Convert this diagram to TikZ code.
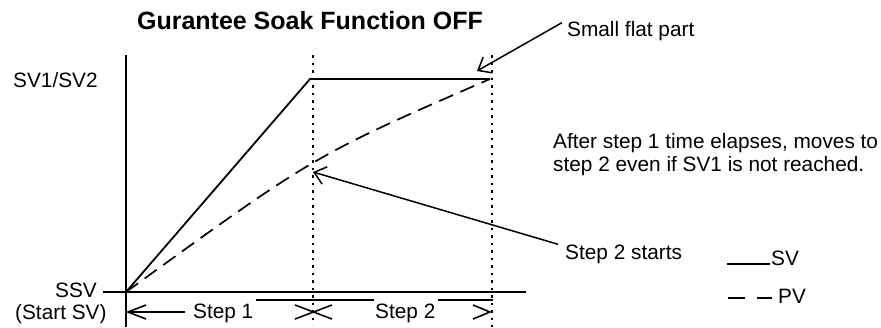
\documentclass[tikz,border=0pt]{standalone}
\usepackage{fontspec}
\setmainfont{Liberation Sans}
\usetikzlibrary{arrows.meta}
\begin{document}
\begin{tikzpicture}[x=1pt,y=-1pt,
  lbl/.style={font=\fontsize{20.8}{24}\selectfont, inner sep=0pt},
  ttl/.style={font=\bfseries\fontsize{25}{29}\selectfont, inner sep=0pt},
  axisline/.style={line width=1.8pt},
  svline/.style={line width=1.8pt},
  pvline/.style={line width=1.7pt, dash pattern=on 15pt off 8pt},
  dotline/.style={line width=2.3pt, dash pattern=on 2.5pt off 5pt},
  callout/.style={line width=1.5pt, -{Straight Barb[length=11pt,width=18pt,line width=1.5pt]}},
  dimline/.style={line width=1.6pt}]
\useasboundingbox (0,0) rectangle (881,327);

% texts
\node[ttl, anchor=base] (title) at (310,29) {Gurantee Soak Function OFF};
\node[lbl, anchor=base west] (svv) at (13,87) {SV1/SV2};
\node[lbl, anchor=base east] (ssv) at (97,297) {SSV};
\node[lbl, anchor=base west] (start) at (15,319) {(Start SV)};
\node[lbl, anchor=base west] (sfp) at (567,36) {Small flat part};
\node[lbl, anchor=base west] (after1) at (553,148) {After step 1 time elapses, moves to};
\node[lbl, anchor=base west] (after2) at (553,171) {step 2 even if SV1 is not reached.};
\node[lbl, anchor=base west] (s2s) at (565,259) {Step 2 starts};
\node[lbl, anchor=base west] (lsv) at (771,265) {SV};
\node[lbl, anchor=base west] (lpv) at (778,303) {PV};
\node[lbl, anchor=base west] (st1) at (193,318) {Step 1};
\node[lbl, anchor=base west] (st2) at (375,318) {Step 2};

% coordinates
\coordinate (O) at (126,292);
\coordinate (ytop) at (126,55);
\coordinate (ybot) at (126,327);
\coordinate (xl) at (103,292);
\coordinate (xr) at (526,292);
\coordinate (corner) at (310,79);
\coordinate (flatend) at (490,79);
\coordinate (pvc) at (315,155);
\coordinate (d1t) at (313,55);
\coordinate (d1b) at (313,325);
\coordinate (d2t) at (492,55);
\coordinate (d2b) at (492,327);
\coordinate (s2tip) at (313,172);
\coordinate (flattip) at (477,71);

% axes
\draw[axisline] (ytop) -- (ybot);
\draw[axisline] (xl) -- (xr);

% dotted step boundaries
\draw[dotline] (d1t) -- (d1b);
\draw[dotline] (d2t) -- (d2b);

% SV and PV
\draw[svline] (O) -- (corner) -- (flatend);
\draw[pvline] (O) .. controls (pvc) .. (flatend);

% callouts
\draw[callout] ([shift={(-5,-8)}]sfp.west) -- (flattip);
\draw[callout] ([shift={(-7,0)}]s2s.north west) -- (s2tip);

% step dimension marks
\draw[dimline] (146,305) -- (128,312) -- (146,319);
\draw[dimline] (128,312) -- (185,312);
\draw[dimline] (256,300) -- (374,300);
\draw[dimline] (295,305) -- (332,319);
\draw[dimline] (295,319) -- (332,305);
\draw[dimline] (438,300) -- (493,300);
\draw[dimline] (473,305) -- (490,312) -- (473,319);

% legend
\draw[svline] (727,264) -- (770,264);
\draw[svline] (728,298) -- (745,298);
\draw[svline] (757,298) -- (772,298);
\end{tikzpicture}
\end{document}
